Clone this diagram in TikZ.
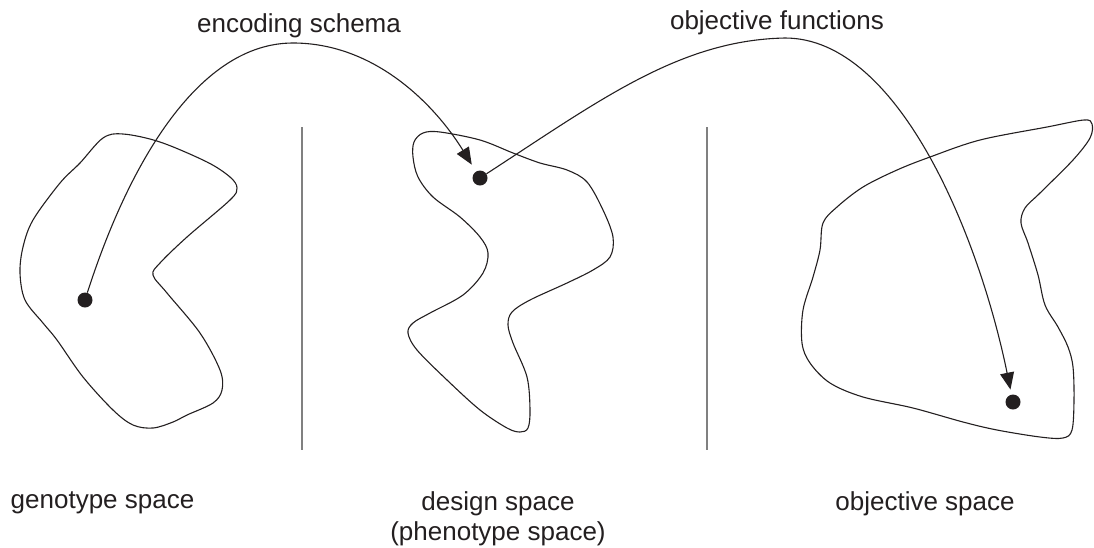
\documentclass[tikz,border=0pt]{standalone}
\usepackage{fontspec}
\setmainfont{Liberation Sans}
\usetikzlibrary{arrows.meta}
\definecolor{ink}{RGB}{35,31,32}
\definecolor{rule}{RGB}{128,128,128}
\begin{document}
\begin{tikzpicture}[x=1pt,y=-1pt,
  outline/.style={draw=ink,line width=1.1pt,line join=round},
  separator/.style={draw=rule,line width=1.6pt},
  dot/.style={circle,fill=ink,inner sep=0pt,minimum size=15pt},
  mapping/.style={draw=ink,line width=1.1pt,-{Triangle[length=17pt,width=14pt]}},
  label/.style={text=ink,font=\fontsize{26}{30}\selectfont,inner sep=0pt,anchor=base,align=center}]
\useasboundingbox (0,0) rectangle (1094,547);

% genotype space region
\draw[outline] plot[smooth cycle,tension=0.55] coordinates {
  (103,138) (123,134) (160,142) (207,162) (230,177) (237,188) (230,200)
  (187,237) (160,263) (153,275) (167,293) (200,333) (220,370) (222,390)
  (213,403) (187,415) (173,422) (153,428) (133,425) (113,410) (83,377)
  (57,340) (43,323) (25,300) (20,273) (23,247) (33,220) (60,183) (80,163)};

% design space region
\draw[outline] plot[smooth cycle,tension=0.55] coordinates {
  (423,133) (440,132) (480,140) (513,153) (540,163) (567,170) (587,182)
  (603,210) (613,237) (610,257) (593,270) (567,283) (530,300) (512,312)
  (508,325) (513,343) (527,377) (530,410) (528,428) (520,432) (507,428)
  (480,410) (447,380) (417,350) (408,333) (413,323) (430,313) (463,295)
  (483,273) (488,253) (480,237) (460,217) (433,197) (418,177) (413,157)
  (414,142)};

% objective space region
\draw[outline] plot[smooth cycle,tension=0.55] coordinates {
  (1084,120) (1047,127) (980,140) (930,157) (897,170) (863,187) (837,207)
  (823,223) (820,250) (813,277) (803,310) (802,343) (810,363) (830,383)
  (863,397) (913,408) (963,422) (997,430) (1040,437) (1063,438) (1072,430)
  (1074,400) (1073,367) (1068,347) (1058,327) (1045,305) (1038,275) (1028,243)
  (1021,223) (1025,208) (1040,193) (1073,160) (1090,138) (1092,124)};

% separators between the spaces
\coordinate (s1t) at (302,127); \coordinate (s1b) at (302,450);
\coordinate (s2t) at (707,127); \coordinate (s2b) at (707,450);
\draw[separator] (s1t) -- (s1b);
\draw[separator] (s2t) -- (s2b);

% points in each space
\node[dot] (g) at (85,300) {};
\node[dot] (d) at (480,178) {};
\node[dot] (o) at (1013,402) {};

% mappings
\coordinate (top1) at (293,43);
\coordinate (top2) at (785,38);
\draw[mapping,shorten >=8pt] (g) .. controls (130,160) and (200,43) .. (top1)
  .. controls (375,43) and (435,105) .. (d);
\draw[mapping,shorten >=5pt] (d) .. controls (600,100) and (680,40) .. (top2)
  .. controls (900,38) and (980,240) .. (o);

% labels
\node[label] (enc) at (299,32) {encoding schema};
\node[label] (obj) at (777,29) {objective functions};
\node[label] (gs) at (102.5,508) {genotype space};
\node[label] (ds) at (498,540) {design space\\(phenotype space)};
\node[label] (os) at (925,510) {objective space};
\end{tikzpicture}
\end{document}
